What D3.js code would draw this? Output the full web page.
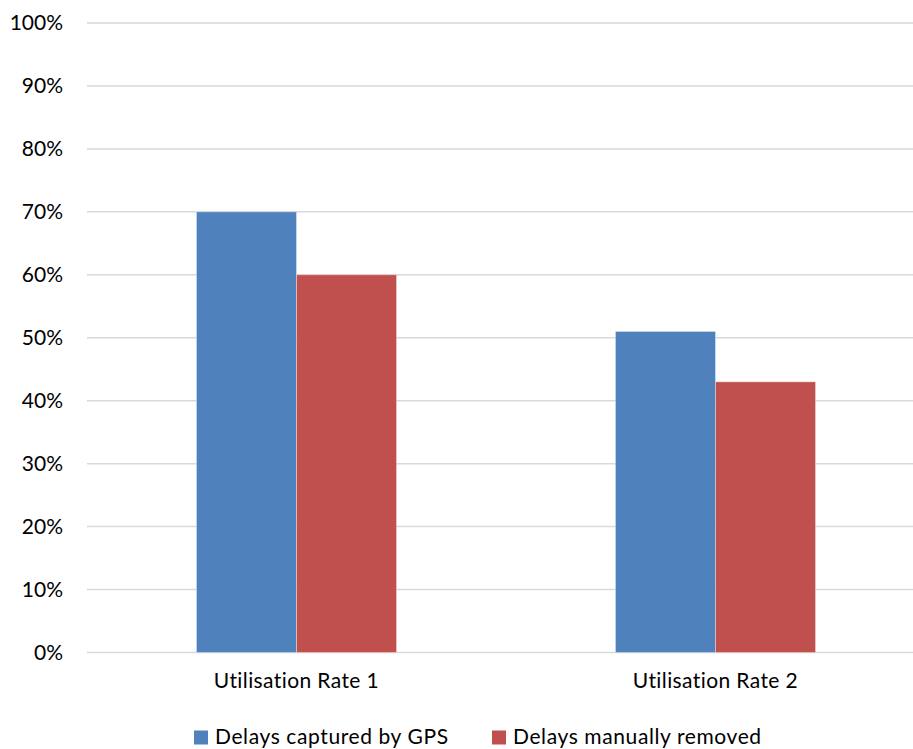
<!DOCTYPE html>
<html>
<head>
<meta charset="utf-8">
<script src="https://cdn.jsdelivr.net/npm/d3@7"></script>
<style>
  html, body { margin: 0; padding: 0; background: #fff; }
  svg { display: block; }
  text { font-family: Lato, "Open Sans", sans-serif; fill: #000; letter-spacing: 0.4px; }
  .y-axis text { letter-spacing: 0; }
  .legend text { letter-spacing: 0.6px; }
</style>
</head>
<body>
<svg id="chart" width="913" height="749"></svg>
<script>
// Categories and series
const categories = ["Utilisation Rate 1", "Utilisation Rate 2"];
const seriesNames = ["Delays captured by GPS", "Delays manually removed"];
const gpsValues = [0.70, 0.51];
const manualValues = [0.60, 0.43];
const seriesColors = ["#4F81BD", "#C0504D"];
const yTicks = [0, 0.1, 0.2, 0.3, 0.4, 0.5, 0.6, 0.7, 0.8, 0.9, 1.0];

const seriesValues = [gpsValues, manualValues];
const rows = categories.map((c, i) => ({
  category: c,
  values: seriesNames.map((s, j) => ({ series: s, idx: j, value: seriesValues[j][i] }))
}));

const svg = d3.select("#chart");
const plot = { left: 87, right: 925, top: 23, bottom: 652.5 };
const fontSize = 21;

const x0 = d3.scaleBand()
  .domain(categories)
  .range([plot.left, plot.right])
  .paddingInner(0.5225)
  .paddingOuter(0.26125);
const x1 = d3.scaleBand()
  .domain(seriesNames)
  .range([0, x0.bandwidth()]);
const y = d3.scaleLinear().domain([0, 1]).range([plot.bottom, plot.top]);

// Horizontal gridlines
svg.append("g")
  .selectAll("line")
  .data(yTicks)
  .join("line")
  .attr("x1", plot.left)
  .attr("x2", plot.right)
  .attr("y1", d => y(d))
  .attr("y2", d => y(d))
  .attr("stroke", "#d9d9d9")
  .attr("stroke-width", 1.5);

// Y axis labels
const yAxis = d3.axisLeft(y)
  .tickValues(yTicks)
  .tickFormat(d3.format(".0%"))
  .tickSize(0)
  .tickPadding(24);
const yg = svg.append("g")
  .attr("class", "y-axis")
  .attr("transform", `translate(${plot.left},0)`)
  .call(yAxis);
yg.select(".domain").remove();
yg.selectAll("text")
  .attr("font-family", "Lato, 'Open Sans', sans-serif")
  .attr("font-size", fontSize)
  .attr("fill", "#000");

// Bars
const groups = svg.append("g")
  .selectAll("g")
  .data(rows)
  .join("g")
  .attr("transform", d => `translate(${x0(d.category)},0)`);
groups.selectAll("rect")
  .data(d => d.values)
  .join("rect")
  .attr("x", d => x1(d.series))
  .attr("width", x1.bandwidth())
  .attr("y", d => y(d.value))
  .attr("height", d => y(0) - y(d.value))
  .attr("fill", d => seriesColors[d.idx])
  .attr("stroke", "rgba(255,255,255,0.35)")
  .attr("stroke-width", 1);

// X axis labels
const xAxis = d3.axisBottom(x0).tickSize(0).tickPadding(21);
const xg = svg.append("g")
  .attr("transform", `translate(0,${plot.bottom})`)
  .call(xAxis);
xg.select(".domain").remove();
xg.selectAll("text")
  .attr("font-family", "Lato, 'Open Sans', sans-serif")
  .attr("font-size", fontSize)
  .attr("fill", "#000");

// Legend
const legendX = [194, 492];
const legend = svg.append("g")
  .attr("class", "legend")
  .selectAll("g")
  .data(seriesNames)
  .join("g")
  .attr("transform", (d, i) => `translate(${legendX[i]},730.5)`);
legend.append("rect")
  .attr("width", 14)
  .attr("height", 14)
  .attr("fill", (d, i) => seriesColors[i]);
legend.append("text")
  .attr("x", 21)
  .attr("y", 13)
  .attr("font-size", fontSize)
  .text(d => d);
</script>
</body>
</html>
